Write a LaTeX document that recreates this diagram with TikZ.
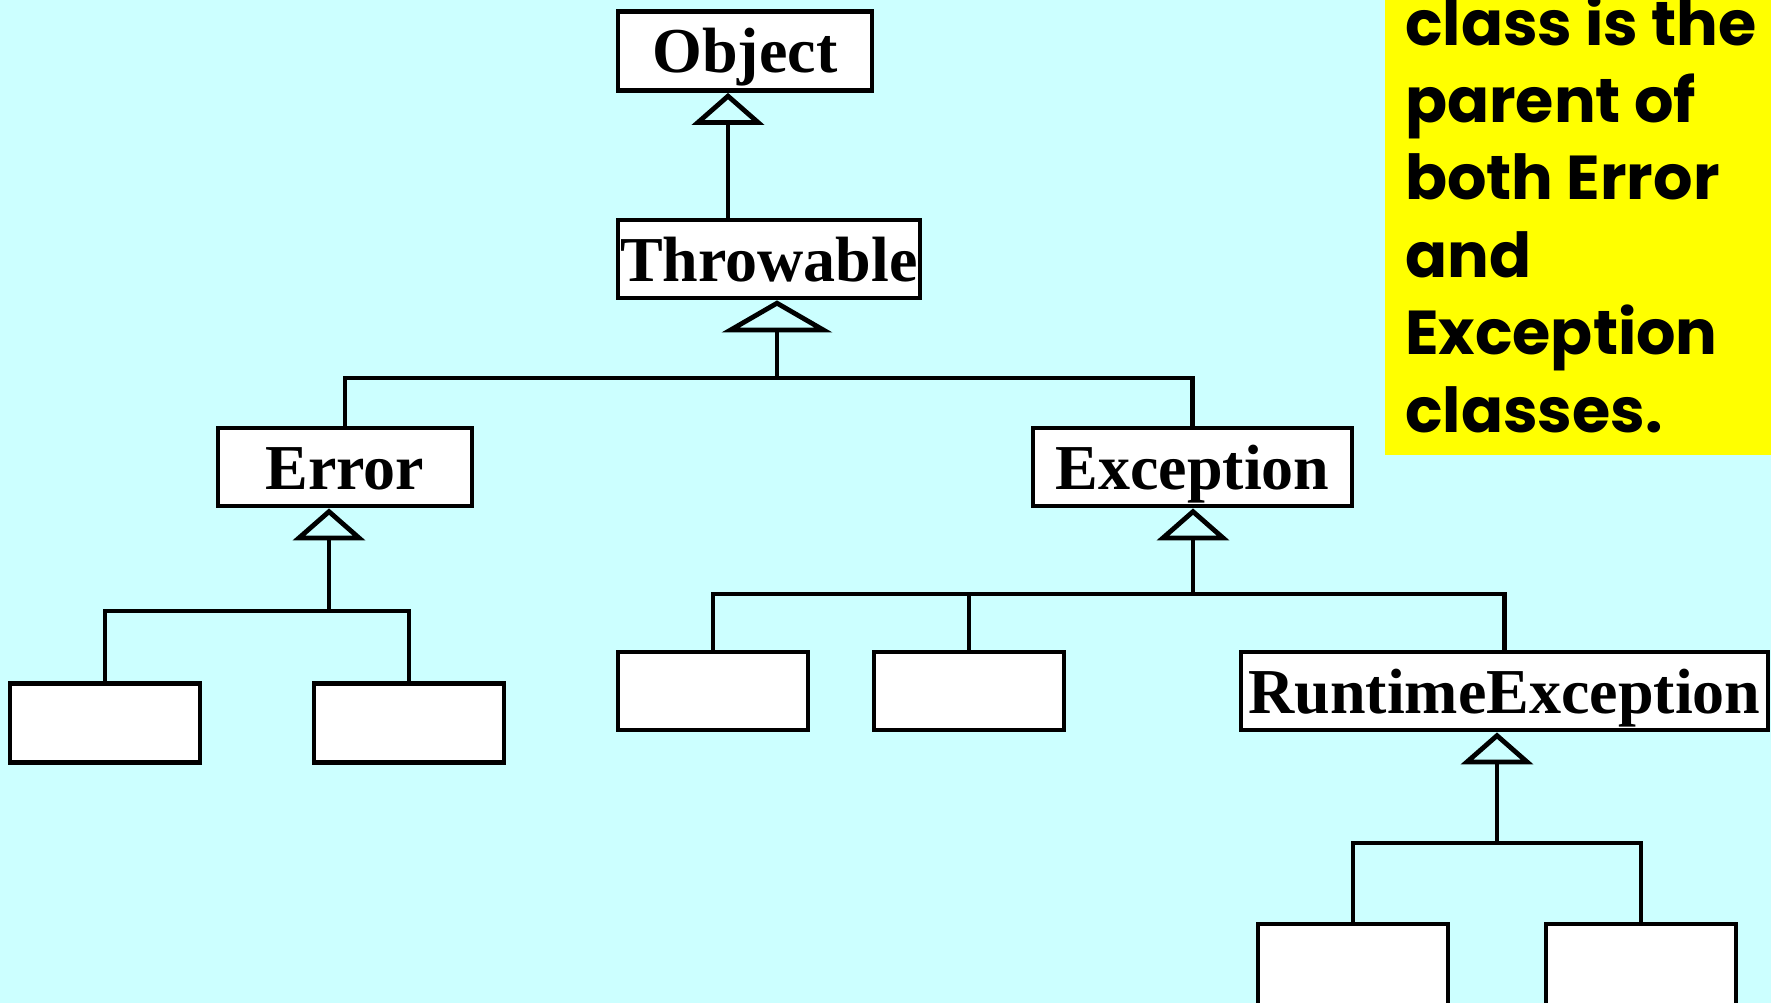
\documentclass[tikz,border=0pt]{standalone}
\usepackage{fontspec}
\setmainfont{Liberation Serif}
\newfontfamily\notefont{Poppins}
\usetikzlibrary{arrows.meta}
\definecolor{bgcyan}{RGB}{204,255,255}
\definecolor{noteyellow}{RGB}{255,255,0}

\begin{document}
\begin{tikzpicture}[x=1pt,y=-1pt,
  cls/.style={draw, line width=4.8pt, fill=white, inner sep=0pt,
    font=\fontsize{64}{70}\selectfont\bfseries, text height=44pt, text depth=0pt},
  leaf/.style={cls, minimum width=190pt},
  link/.style={line width=4.8pt},
  isa/.style={line width=4.8pt, line join=miter,
    -{Triangle[open, length=32pt, width=72pt]}},
  isawide/.style={isa, -{Triangle[open, length=32pt, width=110pt]}}]

% canvas
\useasboundingbox (0,0) rectangle (1771,1003);
\clip (0,0) rectangle (1771,1003);
\fill[bgcyan] (0,0) rectangle (1771,1003);

% class boxes
\node[cls, minimum width=254pt, minimum height=79pt] (Object)    at (745,51)    {Object};
\node[cls, minimum width=302pt, minimum height=78pt] (Throwable) at (769,259)   {Throwable};
\node[cls, minimum width=254pt, minimum height=78pt] (Error)     at (345,467)   {Error};
\node[cls, minimum width=319pt, minimum height=78pt] (Exception) at (1192.5,467) {Exception};
\node[leaf, minimum height=79pt] (E1) at (105,723) {};
\node[leaf, minimum height=79pt] (E2) at (409,723) {};
\node[leaf, minimum height=78pt] (X1) at (713,691) {};
\node[leaf, minimum height=78pt] (X2) at (969,691) {};
\node[cls, minimum width=527pt, minimum height=78pt] (RTE) at (1504.5,691) {RuntimeException};
\node[leaf, minimum height=88pt] (R1) at (1353,968) {};
\node[leaf, minimum height=88pt] (R2) at (1641,968) {};

% junction points of the inheritance lines
\coordinate (jObj)   at (728,220);
\coordinate (jThrow) at (777,378);
\coordinate (jErr)   at (329,611);
\coordinate (jExc)   at (1193,594);
\coordinate (jRte)   at (1497,843);

% inheritance connectors
\draw[isa] (jObj) -- (Object.south -| jObj);

\draw[isawide] (jThrow) -- (Throwable.south -| jThrow);
\draw[link] (Error.north) |- (jThrow) -| (Exception.north);

\draw[isa] (jErr) -- (Error.south -| jErr);
\draw[link] (E1.north) |- (jErr) -| (E2.north);

\draw[isa] (jExc) -- (Exception.south -| jExc);
\draw[link] (X1.north) |- (jExc) -| (RTE.north);
\draw[link] (X2.north) -- (X2.north |- jExc);

\draw[isa] (jRte) -- (RTE.south -| jRte);
\draw[link] (R1.north) |- (jRte) -| (R2.north);

% note
\fill[noteyellow] (1385,0) rectangle (1771,455);
\node[anchor=base west, align=left, inner sep=0pt,
  font=\notefont\fontsize{62}{77.4}\selectfont\bfseries] (note) at (1405,432)
  {class is the\\parent of\\both Error\\and\\Exception\\classes.};
\end{tikzpicture}
\end{document}
